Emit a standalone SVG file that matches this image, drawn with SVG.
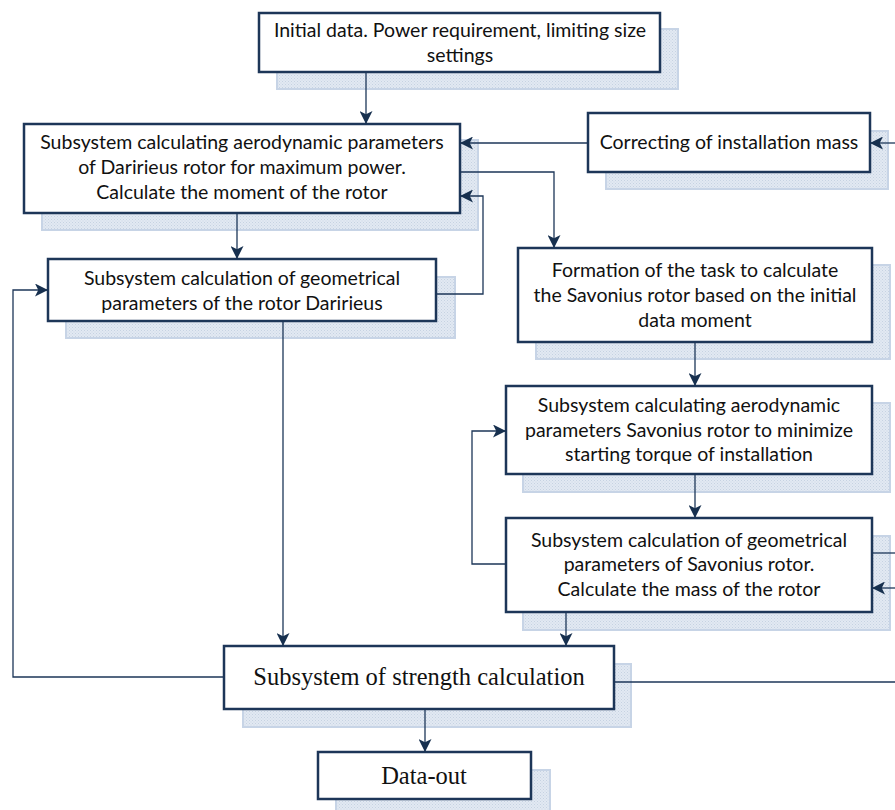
<svg xmlns="http://www.w3.org/2000/svg" width="895" height="810" viewBox="0 0 895 810">
<defs>
<pattern id="dots" width="3" height="3" patternUnits="userSpaceOnUse">
<rect width="3" height="3" fill="#e2e9f2"/>
<rect x="0" y="0" width="1" height="1" fill="#c6d2e2"/>
<rect x="1.5" y="1.5" width="1" height="1" fill="#ccd7e6"/>
</pattern>
<marker id="arr" viewBox="0 0 12 12" refX="12" refY="6" markerWidth="13" markerHeight="13" markerUnits="userSpaceOnUse" orient="auto">
<path d="M0,0 L12,6 L0,12 L3,6 Z" fill="#17304f"/>
</marker>
<style>
.sh{fill:url(#dots);stroke:#c7d4e6;stroke-width:2}
.bx{fill:#fff;stroke:#1d3658;stroke-width:2.5}
.t{font-family:Lato,"Noto Sans",sans-serif;font-size:19.5px;fill:#111;text-anchor:middle}
.s{font-family:"Liberation Serif",serif;font-size:24.5px;fill:#111;text-anchor:middle}
.c{fill:none;stroke:#1d3658;stroke-width:1.3}
.a{marker-end:url(#arr)}
</style>
</defs>
<g id="n1">
<rect class="sh" x="277" y="29" width="401" height="60"/>
<rect class="bx" x="259" y="13" width="401" height="59"/>
<text class="t" x="460" y="37">Initial data. Power requirement, limiting size</text>
<text class="t" x="460" y="62">settings</text>
</g>
<g id="n2">
<rect class="sh" x="42" y="140" width="436" height="90"/>
<rect class="bx" x="24" y="124" width="436" height="89"/>
<text class="t" x="242" y="149">Subsystem calculating aerodynamic parameters</text>
<text class="t" x="242" y="174">of Daririeus rotor for maximum power.</text>
<text class="t" x="242" y="199">Calculate the moment of the rotor</text>
</g>
<g id="n3">
<rect class="sh" x="66" y="277" width="389" height="61"/>
<rect class="bx" x="48" y="259" width="388" height="62"/>
<text class="t" x="242" y="285">Subsystem calculation of geometrical</text>
<text class="t" x="242" y="310">parameters of the rotor Daririeus</text>
</g>
<g id="n4">
<rect class="sh" x="606" y="131" width="282" height="58"/>
<rect class="bx" x="588" y="113" width="282" height="59"/>
<text class="t" x="729" y="149">Correcting of installation mass</text>
</g>
<g id="n5">
<rect class="sh" x="536" y="265" width="354" height="94"/>
<rect class="bx" x="518" y="248" width="354" height="94"/>
<text class="t" x="695" y="277">Formation of the task to calculate</text>
<text class="t" x="695" y="302">the Savonius rotor based on the initial</text>
<text class="t" x="695" y="327">data moment</text>
</g>
<g id="n6">
<rect class="sh" x="523" y="403" width="367" height="89"/>
<rect class="bx" x="506" y="386" width="366" height="88"/>
<text class="t" x="689" y="412">Subsystem calculating aerodynamic</text>
<text class="t" x="689" y="437">parameters Savonius rotor to minimize</text>
<text class="t" x="689" y="461">starting torque of installation</text>
</g>
<g id="n7">
<rect class="sh" x="523" y="536" width="367" height="94"/>
<rect class="bx" x="506" y="518" width="366" height="94"/>
<text class="t" x="689" y="547">Subsystem calculation of geometrical</text>
<text class="t" x="689" y="571">parameters of Savonius rotor.</text>
<text class="t" x="689" y="596">Calculate the mass of the rotor</text>
</g>
<g id="n8">
<rect class="sh" x="243" y="664" width="388" height="63"/>
<rect class="bx" x="224" y="646" width="390" height="63"/>
<text class="s" x="419" y="685">Subsystem of strength calculation</text>
</g>
<g id="n9">
<rect class="sh" x="336" y="770" width="214" height="45"/>
<rect class="bx" x="318" y="752" width="213" height="47"/>
<text class="s" x="424" y="784">Data-out</text>
</g>
<g id="connectors">
<path class="c a" d="M366,72 V124"/>
<path class="c a" d="M588,143 H460"/>
<path class="c a" d="M895,143 H870"/>
<path class="c a" d="M460,172 H554 V248"/>
<path class="c a" d="M436,294 H483 V196 H460"/>
<path class="c a" d="M237,213 V259"/>
<path class="c a" d="M283,321 V646"/>
<path class="c a" d="M695,342 V386"/>
<path class="c a" d="M695,474 V518"/>
<path class="c a" d="M506,564 H472 V431 H506"/>
<path class="c" d="M872,553 H895"/>
<path class="c a" d="M895,588 H872"/>
<path class="c a" d="M566,612 V646"/>
<path class="c a" d="M224,677 H13 V290 H48"/>
<path class="c" d="M614,682 H895"/>
<path class="c a" d="M425,709 V752"/>
</g>
</svg>
